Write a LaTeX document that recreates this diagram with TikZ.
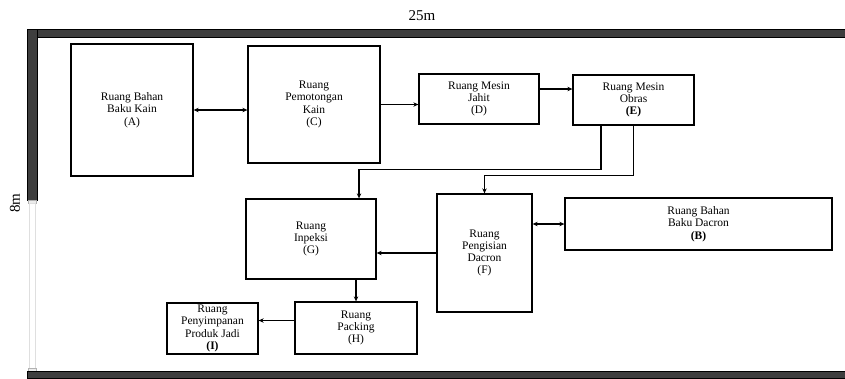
\documentclass[tikz,border=0pt]{standalone}
\usepackage{fontspec}
\setmainfont{Liberation Serif}
\usepackage{tikz}
\usetikzlibrary{arrows.meta,positioning,calc}

\definecolor{wallgray}{RGB}{62,62,62}
\tikzset{
  room/.style={draw,line width=1.3pt,rectangle,align=center,inner sep=0pt,
    font=\fontsize{11.5}{12.3}\selectfont},
  flow/.style={line width=1.2pt,-{Stealth[length=5pt,width=4.5pt]}},
  biflow/.style={line width=1.2pt,{Stealth[length=5pt,width=4.5pt]}-{Stealth[length=5pt,width=4.5pt]}},
  wall/.style={fill=wallgray,draw=black,line width=0.4pt}
}

\begin{document}
\begin{tikzpicture}[x=1pt,y=-1pt]
  \useasboundingbox (0,0) rectangle (845,378);
  \draw[wall] (27.5,29.5) rectangle (845,37.5);
  \draw[wall] (27.5,29.5) rectangle (37,200);
  \draw[fill=gray!15,draw=gray!60] (28.5,200) rectangle (36,203);
  \draw[fill=white,draw=gray!25] (29.5,203) rectangle (35.5,368);
  \draw[fill=gray!15,draw=gray!60] (28.5,368) rectangle (36,371.5);
  \draw[wall] (27.5,371.5) rectangle (845,378);
  \node[font=\fontsize{15}{15}\selectfont] (len) at (422,16) {25m};
  \node[font=\fontsize{15}{15}\selectfont,rotate=90] (wid) at (15,203) {8m};

  \node[room,minimum width=122pt,minimum height=132pt] (A) at (132,110) {Ruang Bahan\\Baku Kain\\(A)};
  \node[room,minimum width=132pt,minimum height=117pt] (C) at (314,104.5) {Ruang\\Pemotongan\\Kain\\(C)};
  \node[room,minimum width=120pt,minimum height=50pt] (D) at (479,99) {Ruang Mesin\\Jahit\\(D)};
  \node[room,minimum width=121pt,minimum height=50pt] (E) at (633.5,100) {Ruang Mesin\\Obras\\\textbf{(E)}};
  \node[room,minimum width=130pt,minimum height=80pt] (G) at (311,239) {Ruang\\Inpeksi\\(G)};
  \node[room,minimum width=95pt,minimum height=118pt] (F) at (484.5,253) {Ruang\\Pengisian\\Dacron\\(F)};
  \node[room,minimum width=267pt,minimum height=52pt] (B) at (698.5,224) {Ruang Bahan\\Baku Dacron\\\textbf{(B)}};
  \node[room,minimum width=122pt,minimum height=52pt] (H) at (356,328) {Ruang\\Packing\\(H)};
  \node[room,minimum width=91pt,minimum height=51pt] (I) at (212.5,328.5) {Ruang\\Penyimpanan\\Produk Jadi\\\textbf{(I)}};

  \coordinate (de) at ([yshift=10pt]D.east);
  \coordinate (e1) at ([xshift=-32.5pt]E.south);
  \coordinate (g1) at ([xshift=48pt]G.north);
  \coordinate (hi) at ([yshift=7.5pt]H.west);

  \draw[biflow] (A.east) -- (A.east -| C.west);
  \draw[flow] (C.east) -- (C.east -| D.west);
  \draw[flow] (de) -- (de -| E.west);
  \draw[flow] (e1) -- ++(0,44) -| (g1);
  \draw[flow] (E.south) -- ++(0,50) -| (F.north);
  \draw[flow] (F.west) -- (F.west -| G.east);
  \draw[biflow] (B.west -| F.east) -- (B.west);
  \draw[flow] (H.north |- G.south) -- (H.north);
  \draw[flow] (hi) -- (hi -| I.east);
\end{tikzpicture}
\end{document}
